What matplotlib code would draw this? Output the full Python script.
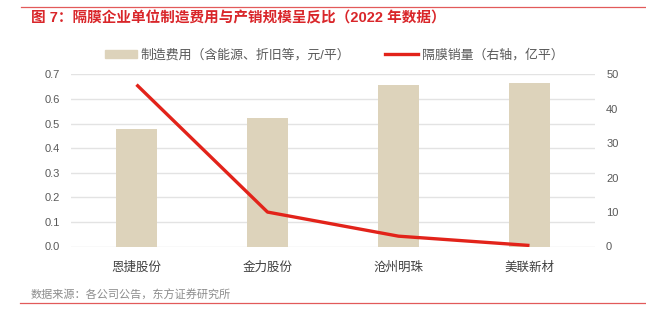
import matplotlib
matplotlib.use('Agg')
from matplotlib import pyplot as plt
from matplotlib.lines import Line2D

plt.rcParams['font.family'] = ['Liberation Sans', 'Noto Sans CJK SC']
plt.rcParams['axes.unicode_minus'] = False

companies = ['恩捷股份', '金力股份', '沧州明珠', '美联新材']
cost = [0.478, 0.523, 0.658, 0.666]          # 元/平
volume = [47.0, 10.0, 3.0, 0.3]              # 亿平

left_ticks = [0.0, 0.1, 0.2, 0.3, 0.4, 0.5, 0.6, 0.7]
right_ticks = [0, 10, 20, 30, 40, 50]

title = '图 7：隔膜企业单位制造费用与产销规模呈反比（2022 年数据）'
source = '数据来源：各公司公告，东方证券研究所'
bar_label = '制造费用（含能源、折旧等，元/平）'
line_label = '隔膜销量（右轴，亿平）'

bar_color = '#DDD3BB'
line_color = '#E2231A'
red = '#D9262A'
tick_color = '#595959'

fig = plt.figure(figsize=(6.46, 3.23), dpi=100)
ax = fig.add_axes([71 / 646, 1 - 246.5 / 323, (595 - 71) / 646, (246.5 - 74.3) / 323])
ax2 = ax.twinx()

x = list(range(len(companies)))
ax.bar(x, cost, width=0.31, color=bar_color, zorder=2)
ax2.plot(x, volume, color=line_color, lw=2.4, solid_capstyle='butt', zorder=3)

ax.set_xlim(-0.5, len(companies) - 0.5)
ax.set_ylim(0, 0.7)
ax.set_yticks(left_ticks)
ax.set_yticklabels([f'{v:.1f}' for v in left_ticks])
ax2.set_ylim(0, 50)
ax2.set_yticks(right_ticks)
ax.set_xticks(x)
ax.set_xticklabels(companies)

ax.grid(axis='y', color='#E3E3E3', lw=1.0, zorder=0)
ax.set_axisbelow(True)
for a in (ax, ax2):
    for s in a.spines.values():
        s.set_visible(False)
    a.tick_params(length=0, labelsize=8, colors=tick_color)
ax.tick_params(axis='y', pad=8)
ax2.tick_params(axis='y', pad=8)
ax.tick_params(axis='x', labelsize=9, colors='#404040', pad=11)

handles = [plt.Rectangle((0, 0), 1, 1, color=bar_color),
           Line2D([0], [0], color=line_color, lw=2.4)]
fig.legend(handles, [bar_label, line_label], loc='center', ncol=2,
           bbox_to_anchor=(0.517, 1 - 55 / 323), frameon=False,
           fontsize=9.3, labelcolor=tick_color, handlelength=2.5,
           handleheight=0.6, handletextpad=0.3, columnspacing=2.7)

fig.text(31 / 646, 1 - 18 / 323, title, color=red, fontsize=10.5,
         fontweight='bold', va='center', ha='left')
fig.text(31 / 646, 1 - 295 / 323, source, color='#8C8C8C', fontsize=8,
         va='center', ha='left')
fig.add_artist(Line2D([21 / 646, 1], [1 - 7.3 / 323] * 2, color='#E25A5A', lw=0.9))
fig.add_artist(Line2D([20 / 646, 1], [1 - 303.3 / 323] * 2, color='#E25A5A', lw=0.9))

fig.savefig('out.png', dpi=100)
